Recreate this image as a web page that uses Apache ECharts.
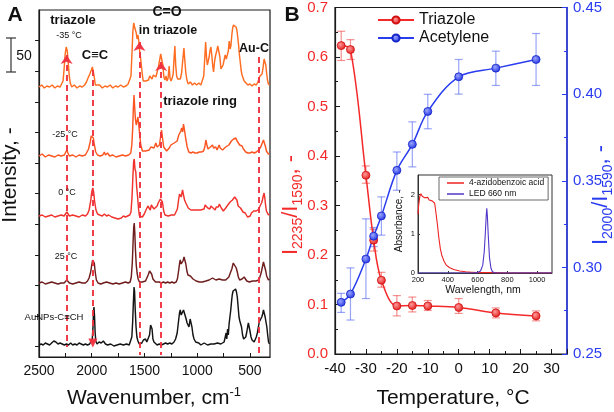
<!DOCTYPE html>
<html><head><meta charset="utf-8">
<script src="https://cdn.jsdelivr.net/npm/echarts@6/dist/echarts.min.js"></script>
<style>html,body{margin:0;padding:0;background:#fff}#c{width:614px;height:412px}</style>
</head><body><div id="c"></div>
<script>
// ---------- Panel A: Raman spectra (wavenumber, intensity offset-stacked) ----------
const wavenumberLabels = [500, 1000, 1500, 2000, 2500];
const wavenumberTicks = [500, 750, 1000, 1250, 1500, 1750, 2000, 2250, 2500];
const intensityTicks = [10.3, 40.9, 71.5, 102.1, 132.7, 163.3, 193.9, 224.5, 255.1, 285.7, 316.3];

const spectrumM35 = [[2500,270],[2475,272],[2450,269],[2425,271],[2400,270],[2375,272],[2350,269],[2325,271],[2300,270],[2285,272],[2272,276],[2262,288],[2252,303],[2242,310],[2232,306],[2224,296],[2214,282],[2204,274],[2190,270],[2165,272],[2140,269],[2115,271],[2090,270],[2068,272],[2050,275],[2035,279],[2018,283],[2004,287],[1994,290],[1985,288],[1976,280],[1966,272],[1950,270],[1925,272],[1900,269],[1875,271],[1850,270],[1825,272],[1800,269],[1775,271],[1750,270],[1725,272],[1700,270],[1675,271],[1655,273],[1640,274],[1628,281],[1618,305],[1610,326],[1602,334],[1594,330],[1586,332],[1578,324],[1570,318],[1562,322],[1554,316],[1546,306],[1538,300],[1530,292],[1522,284],[1512,276],[1500,274],[1488,276],[1476,274],[1462,277],[1450,281],[1440,283],[1428,278],[1416,282],[1404,283],[1392,280],[1380,285],[1368,290],[1356,297],[1346,303],[1336,302],[1326,292],[1316,280],[1306,277],[1296,281],[1286,276],[1276,279],[1266,291],[1258,279],[1248,276],[1238,279],[1228,283],[1220,298],[1212,311],[1204,292],[1195,281],[1185,278],[1172,280],[1160,278],[1148,284],[1136,298],[1126,309],[1118,297],[1108,284],[1098,277],[1085,273],[1065,275],[1045,272],[1025,274],[1005,272],[985,274],[965,272],[950,274],[938,281],[928,300],[920,315],[912,300],[904,292],[895,294],[887,300],[878,307],[870,310],[862,302],[852,290],[845,285],[835,296],[825,302],[815,306],[805,311],[795,309],[785,300],[775,288],[765,287],[755,292],[745,297],[735,302],[725,298],[715,296],[705,306],[697,316],[688,308],[680,312],[672,322],[664,329],[656,332],[648,331],[640,333],[632,330],[624,327],[616,320],[608,312],[600,302],[592,295],[584,287],[575,282],[565,279],[555,276],[540,274],[520,272],[500,273],[480,271],[460,273],[440,272],[425,275],[415,278],[405,281],[395,279],[385,283],[375,290],[366,298],[358,300],[350,292],[342,284],[334,277],[325,273],[315,272]];

const spectrumM25 = [[2500,201],[2470,203],[2440,200],[2410,202],[2380,201],[2350,200],[2320,202],[2290,201],[2260,202],[2248,204],[2236,207],[2226,204],[2212,201],[2180,202],[2150,200],[2120,202],[2090,201],[2060,202],[2045,204],[2030,208],[2015,215],[2005,221],[1995,223],[1985,219],[1975,212],[1962,205],[1945,202],[1920,201],[1895,202],[1880,205],[1870,202],[1850,204],[1830,201],[1800,202],[1770,200],[1740,201],[1710,202],[1680,201],[1650,202],[1630,204],[1620,212],[1612,228],[1605,250],[1599,262],[1593,250],[1586,238],[1578,232],[1570,236],[1562,240],[1555,233],[1545,222],[1535,212],[1520,206],[1505,205],[1490,206],[1472,205],[1455,207],[1440,210],[1425,212],[1410,209],[1392,214],[1380,210],[1370,208],[1358,212],[1345,222],[1338,227],[1330,220],[1318,210],[1305,208],[1290,206],[1280,207],[1265,209],[1250,212],[1235,210],[1218,214],[1205,212],[1190,216],[1175,222],[1165,224],[1155,226],[1148,229],[1138,225],[1130,233],[1122,228],[1110,219],[1095,210],[1080,205],[1060,204],[1040,205],[1020,204],[1000,204],[980,205],[960,205],[940,206],[928,210],[918,217],[908,212],[898,208],[887,209],[875,210],[865,208],[855,212],[845,209],[835,208],[824,210],[812,207],[800,209],[792,212],[782,209],[770,207],[760,207],[745,208],[730,210],[713,210],[700,212],[688,214],[676,216],[666,217],[655,218],[645,219],[634,219],[622,216],[610,214],[598,212],[587,214],[575,211],[562,208],[550,206],[540,205],[520,204],[500,204],[480,205],[460,204],[440,205],[428,205],[418,207],[408,209],[398,210],[390,209],[380,212],[372,217],[366,219],[360,216],[352,210],[344,206],[335,204],[325,203],[315,203]];

const spectrum0 = [[2500,141],[2470,142],[2440,140],[2410,141],[2380,142],[2350,140],[2320,141],[2290,142],[2262,141],[2248,143],[2236,145],[2226,143],[2212,141],[2180,142],[2150,141],[2120,140],[2090,142],[2060,141],[2040,143],[2025,147],[2010,156],[2000,165],[1990,169],[1982,165],[1972,155],[1960,147],[1945,143],[1925,142],[1900,141],[1880,143],[1860,141],[1840,142],[1810,140],[1780,139],[1750,138],[1720,139],[1700,141],[1680,140],[1660,141],[1640,142],[1628,145],[1618,160],[1610,180],[1603,195],[1597,198],[1590,188],[1582,185],[1574,170],[1565,160],[1556,148],[1548,141],[1536,139],[1520,140],[1502,143],[1490,146],[1478,148],[1468,151],[1455,150],[1445,147],[1435,152],[1423,151],[1410,148],[1400,147],[1392,149],[1380,151],[1370,154],[1360,156],[1350,158],[1340,159],[1330,155],[1318,146],[1305,142],[1290,141],[1275,141],[1260,140],[1245,142],[1230,141],[1215,142],[1200,143],[1188,148],[1178,156],[1168,163],[1161,165],[1152,160],[1145,164],[1139,167],[1130,162],[1120,157],[1108,154],[1095,153],[1085,149],[1075,148],[1060,147],[1045,149],[1030,147],[1015,148],[1000,147],[985,148],[968,147],[950,146],[935,148],[925,152],[918,154],[910,150],[900,149],[890,150],[880,148],[870,151],[860,153],[850,149],[840,148],[830,147],[820,150],[810,152],[800,150],[790,153],[782,154],[772,149],[762,147],[752,146],[742,148],[730,149],[718,150],[710,152],[700,154],[688,155],[676,156],[666,157],[656,158],[645,160],[634,160],[624,157],[612,151],[602,150],[590,149],[578,147],[566,145],[555,146],[545,144],[535,142],[523,140],[510,139],[498,141],[486,144],[476,145],[465,146],[450,144],[440,146],[428,146],[415,148],[405,151],[397,152],[390,154],[382,157],[374,161],[366,164],[360,160],[352,152],[344,146],[335,144],[325,142],[315,143]];

const spectrum25 = [[2500,74],[2470,75],[2440,73],[2410,74],[2380,75],[2350,74],[2320,73],[2290,74],[2262,74],[2248,76],[2236,77],[2226,75],[2212,74],[2180,73],[2150,74],[2120,75],[2090,74],[2060,74],[2040,76],[2025,79],[2010,85],[2000,92],[1992,97],[1984,99],[1976,94],[1966,84],[1956,77],[1940,74],[1915,73],[1890,74],[1860,75],[1830,74],[1800,73],[1770,74],[1740,73],[1710,74],[1680,75],[1655,74],[1636,75],[1625,80],[1615,95],[1608,115],[1602,130],[1597,134],[1592,125],[1586,108],[1578,92],[1570,84],[1560,78],[1548,75],[1535,74],[1520,75],[1505,77],[1490,76],[1478,78],[1465,82],[1452,86],[1440,87],[1432,83],[1420,78],[1408,76],[1395,75],[1380,74],[1360,75],[1340,74],[1320,75],[1300,74],[1280,75],[1260,74],[1240,75],[1220,74],[1200,75],[1188,78],[1178,85],[1168,93],[1161,97],[1152,93],[1145,92],[1135,96],[1125,100],[1117,100],[1108,93],[1098,86],[1088,82],[1078,80],[1065,81],[1050,79],[1040,78],[1025,77],[1010,76],[997,76],[980,75],[966,74],[950,75],[934,75],[918,76],[902,77],[887,77],[871,78],[855,79],[840,78],[823,77],[808,76],[792,78],[776,79],[760,77],[745,76],[730,77],[713,77],[700,80],[690,83],[681,84],[672,88],[665,91],[658,94],[650,93],[640,92],[630,89],[620,85],[610,80],[598,77],[587,77],[575,78],[565,78],[555,80],[545,79],[530,76],[518,76],[505,75],[492,75],[476,76],[460,77],[445,76],[429,76],[415,77],[405,79],[397,83],[390,86],[380,91],[372,95],[365,97],[358,93],[350,86],[342,81],[334,79],[325,77],[315,78]];

const spectrumAuNPs = [[2500,12],[2480,13],[2460,12],[2440,14],[2420,13],[2400,12],[2380,14],[2360,16],[2340,15],[2320,13],[2300,14],[2280,13],[2260,12],[2240,13],[2220,12],[2200,14],[2180,12],[2160,13],[2140,12],[2120,14],[2100,13],[2080,12],[2060,13],[2040,12],[2020,13],[2005,15],[1995,18],[1988,30],[1983,46],[1979,50],[1974,42],[1968,25],[1962,16],[1950,13],[1930,15],[1910,14],[1890,16],[1870,13],[1850,12],[1820,13],[1790,11],[1760,12],[1730,13],[1700,12],[1670,13],[1645,12],[1630,14],[1620,20],[1612,35],[1605,55],[1599,70],[1594,66],[1588,48],[1580,30],[1572,20],[1562,16],[1550,13],[1540,12],[1525,14],[1510,17],[1500,16],[1490,18],[1478,15],[1465,16],[1452,22],[1442,32],[1436,34],[1428,28],[1420,18],[1410,15],[1395,13],[1380,12],[1360,13],[1340,12],[1320,13],[1300,14],[1280,13],[1260,14],[1240,13],[1220,15],[1205,18],[1190,24],[1178,35],[1168,44],[1161,47],[1152,42],[1145,40],[1139,44],[1130,47],[1122,49],[1115,45],[1105,38],[1096,34],[1088,32],[1078,30],[1067,38],[1060,36],[1050,30],[1040,22],[1030,18],[1015,15],[1000,13],[985,14],[966,12],[950,13],[934,14],[918,13],[902,12],[887,14],[871,13],[855,14],[840,13],[823,15],[808,14],[792,13],[776,13],[760,14],[745,15],[733,16],[726,24],[720,18],[712,28],[705,22],[698,33],[690,40],[682,47],[675,55],[668,62],[660,66],[652,68],[644,67],[636,68],[628,65],[620,60],[612,50],[604,40],[596,36],[588,38],[580,30],[570,22],[560,18],[550,17],[540,20],[530,25],[522,30],[515,34],[508,32],[500,26],[490,20],[480,17],[470,16],[460,15],[450,17],[440,20],[430,24],[420,30],[412,35],[404,33],[396,36],[388,40],[380,43],[372,47],[364,46],[356,40],[348,35],[340,30],[332,22],[324,15],[315,13]];

// band marker lines: [wavenumber, top, bottom]
const bandLines = [[2238, 302, 10], [1990, 287, 14], [1548, 315, 2], [1342, 295, 2], [416, 300, 2]];

// ---------- Panel B: ratios vs temperature ----------
const temperatures = [-38, -35, -30, -27.5, -25, -20, -15, -10, 0, 12, 25];
const triazole = [0.623, 0.615, 0.361, 0.23, 0.149, 0.097, 0.098, 0.097, 0.094, 0.083, 0.077];
const triazoleLow = [0.593, 0.595, 0.345, 0.208, 0.135, 0.077, 0.085, 0.088, 0.082, 0.073, 0.067];
const triazoleHigh = [0.652, 0.635, 0.38, 0.252, 0.165, 0.118, 0.115, 0.108, 0.112, 0.093, 0.087];
const acetylene = [0.2798, 0.2846, 0.3048, 0.318, 0.3297, 0.356, 0.371, 0.390, 0.410, 0.415, 0.420];
const acetyleneLow = [0.274, 0.2696, 0.282, 0.312, 0.3186, 0.3445, 0.358, 0.380, 0.400, 0.405, 0.405];
const acetyleneHigh = [0.285, 0.2997, 0.328, 0.323, 0.3407, 0.3666, 0.384, 0.3999, 0.420, 0.4248, 0.435];

// ---------- Inset: absorbance spectra ----------
const azideWavelength = [200, 205, 212, 220, 228, 236, 245, 255, 265, 275, 285, 295, 305, 312, 320, 330, 340, 350, 360, 375, 390, 410, 440, 480, 520, 560, 600, 700, 800, 900, 1000, 1100];
const azideAbsorbance = [1.5, 1.75, 1.95, 2.02, 1.96, 1.98, 1.92, 1.9, 1.93, 1.86, 1.83, 1.84, 1.83, 1.78, 1.55, 1.25, 0.9, 0.62, 0.45, 0.3, 0.2, 0.14, 0.09, 0.05, 0.03, 0.02, 0.01, 0.01, 0.0, 0.0, 0.0, 0.0];
const ledWavelength = [200, 400, 560, 600, 620, 635, 645, 652, 658, 662, 666, 672, 680, 690, 700, 720, 900, 1100];
const ledIntensity = [0, 0, 0, 0.01, 0.05, 0.2, 0.55, 1.0, 1.45, 1.65, 1.45, 0.95, 0.4, 0.12, 0.03, 0, 0, 0];

const FONT = '"Liberation Sans", Arial, Helvetica, sans-serif';
const RED = '#f42a2a', BLUE = '#2a3cf0', DASH = '#f03240';

function zip(a, b) { return a.map((v, i) => [v, b[i]]); }
function errRender(color) {
  return function (params, api) {
    const x = api.value(0), lo = api.value(1), hi = api.value(2);
    const p1 = api.coord([x, lo]), p2 = api.coord([x, hi]);
    const w = 4, st = { stroke: color, lineWidth: 1.2 };
    return { type: 'group', children: [
      { type: 'line', shape: { x1: p1[0], y1: p1[1], x2: p2[0], y2: p2[1] }, style: st },
      { type: 'line', shape: { x1: p1[0] - w, y1: p1[1], x2: p1[0] + w, y2: p1[1] }, style: st },
      { type: 'line', shape: { x1: p2[0] - w, y1: p2[1], x2: p2[0] + w, y2: p2[1] }, style: st }
    ] };
  };
}
function ball(c0, c1) {
  return { type: 'radial', x: 0.4, y: 0.38, r: 0.65, colorStops: [{ offset: 0, color: c0 }, { offset: 1, color: c1 }] };
}
function specSeries(name, data, color) {
  return { name, type: 'line', xAxisIndex: 0, yAxisIndex: 0, data, symbol: 'none', lineStyle: { color, width: 1.45 }, itemStyle: { color }, silent: true };
}
function txt(x, y, text, size, weight, extra) {
  return Object.assign({ type: 'text', x, y, z: 100, silent: true,
    style: { text, fontSize: size, fontWeight: weight || 'normal', fontFamily: FONT, fill: '#111', align: 'center', verticalAlign: 'middle' } }, extra || {});
}
function rot(x, y, style) {
  return { type: 'text', x, y, rotation: Math.PI / 2, z: 100, silent: true,
    style: Object.assign({ fontFamily: FONT, align: 'center', verticalAlign: 'middle' }, style) };
}
const plain = v => String(v);

const markData = bandLines.map((b, i) => [
  { coord: [b[0], b[1]], symbol: (i === 1 || i === 4) ? 'none' : 'arrow', symbolSize: 9 },
  { coord: [b[0], b[2]], symbol: i === 1 ? 'triangle' : 'none', symbolSize: 9 }
]);

const chart = echarts.init(document.getElementById('c'));
const axisLineBlack = { show: true, onZero: false, lineStyle: { color: '#1a1a1a', width: 1.2 } };

chart.setOption({
  animation: false,
  textStyle: { fontFamily: FONT },
  grid: [
    { left: 39, top: 10, width: 231, height: 347, show: true, borderColor: '#1a1a1a', borderWidth: 1.2 },
    { left: 335, top: 7, width: 232, height: 347, show: true, borderColor: '#1a1a1a', borderWidth: 1.2 },
    { left: 418, top: 175, width: 134, height: 98, show: true, borderColor: '#333', borderWidth: 1, backgroundColor: '#fff' }
  ],
  xAxis: [
    { gridIndex: 0, type: 'value', inverse: true, min: 310, max: 2500, axisLine: axisLineBlack,
      axisTick: { show: true, inside: true, length: 4, customValues: wavenumberTicks, lineStyle: { color: '#1a1a1a' } },
      axisLabel: { customValues: wavenumberLabels, fontSize: 14, color: '#111', margin: 7, fontFamily: FONT, formatter: plain },
      splitLine: { show: false } },
    { gridIndex: 1, type: 'value', min: -40, max: 35, interval: 10, axisLine: axisLineBlack,
      axisTick: { show: true, inside: true, length: 5, lineStyle: { color: '#1a1a1a' } },
      minorTick: { show: true, splitNumber: 2, length: 3, lineStyle: { color: '#1a1a1a' } },
      axisLabel: { fontSize: 15, color: '#111', margin: 7, showMaxLabel: false, fontFamily: FONT, formatter: plain },
      splitLine: { show: false } },
    { gridIndex: 2, type: 'value', min: 200, max: 1100, interval: 200, axisLine: { show: true, onZero: false, lineStyle: { color: '#333', width: 1 } },
      axisTick: { show: true, inside: true, length: 2, lineStyle: { color: '#333' } },
      axisLabel: { fontSize: 7.5, color: '#111', margin: 3, showMaxLabel: false, fontFamily: FONT, formatter: plain },
      splitLine: { show: false } }
  ],
  yAxis: [
    { gridIndex: 0, type: 'value', min: 0, max: 347, axisLine: axisLineBlack,
      axisTick: { show: true, inside: false, length: 4, customValues: intensityTicks, lineStyle: { color: '#1a1a1a' } },
      axisLabel: { show: false }, splitLine: { show: false } },
    { gridIndex: 1, type: 'value', min: 0, max: 0.7, interval: 0.1, axisLine: axisLineBlack,
      axisTick: { show: true, inside: true, length: 5, lineStyle: { color: '#1a1a1a' } },
      minorTick: { show: true, splitNumber: 2, length: 3, lineStyle: { color: '#1a1a1a' } },
      axisLabel: { fontSize: 15, color: RED, margin: 7, formatter: v => v.toFixed(1), fontFamily: FONT },
      splitLine: { show: false } },
    { gridIndex: 1, type: 'value', position: 'right', min: 0.25, max: 0.45, interval: 0.05,
      axisLine: { show: true, onZero: false, lineStyle: { color: BLUE, width: 1.5 } },
      axisTick: { show: true, inside: true, length: 5, lineStyle: { color: BLUE } },
      minorTick: { show: true, splitNumber: 2, length: 3, lineStyle: { color: BLUE } },
      axisLabel: { fontSize: 15, color: BLUE, margin: 6, formatter: v => v.toFixed(2), fontFamily: FONT },
      splitLine: { show: false } },
    { gridIndex: 2, type: 'value', min: 0, max: 2.5, interval: 1, axisLine: { show: true, onZero: false, lineStyle: { color: '#333', width: 1 } },
      axisTick: { show: true, inside: true, length: 2, lineStyle: { color: '#333' } },
      axisLabel: { fontSize: 7.5, color: '#111', margin: 3, showMaxLabel: false, fontFamily: FONT },
      splitLine: { show: false } }
  ],
  legend: [
    { data: ['Triazole', 'Acetylene'], orient: 'vertical', left: 377, top: 12, padding: 0, itemGap: 2,
      itemWidth: 36, itemHeight: 9, textStyle: { fontSize: 16, color: '#111', lineHeight: 14, fontFamily: FONT } },
    { data: [{ name: '4-azidobenzoic acid', icon: 'rect' }, { name: 'LED 660 nm', icon: 'rect' }], orient: 'vertical', left: 439, top: 177, padding: [1, 4, 1, 8], itemGap: 1,
      itemWidth: 17, itemHeight: 1.5, borderColor: '#444', borderWidth: 0.8, backgroundColor: '#fff',
      textStyle: { fontSize: 8.5, color: '#111', lineHeight: 10, fontFamily: FONT } }
  ],
  series: [
    specSeries('-35 °C', spectrumM35, '#ff6d22'),
    specSeries('-25 °C', spectrumM25, '#fb5622'),
    specSeries('0 °C', spectrum0, '#f0322c'),
    specSeries('25 °C', spectrum25, '#6e1c1c'),
    Object.assign(specSeries('AuNPs-C≡CH', spectrumAuNPs, '#141414'), {
      markLine: { silent: true, animation: false, symbol: ['none', 'none'], label: { show: false },
        lineStyle: { type: [6, 4], color: DASH, width: 2, opacity: 0.95 }, emphasis: { disabled: true },
        data: markData }
    }),
    { type: 'custom', name: 'triazoleErr', xAxisIndex: 1, yAxisIndex: 1, z: 1, silent: true,
      renderItem: errRender('rgba(240,70,70,0.6)'), encode: { x: 0, y: [1, 2] },
      data: temperatures.map((t, i) => [t, triazoleLow[i], triazoleHigh[i]]) },
    { type: 'custom', name: 'acetyleneErr', xAxisIndex: 1, yAxisIndex: 2, z: 1, silent: true,
      renderItem: errRender('rgba(70,90,240,0.55)'), encode: { x: 0, y: [1, 2] },
      data: temperatures.map((t, i) => [t, acetyleneLow[i], acetyleneHigh[i]]) },
    { name: 'Triazole', type: 'line', xAxisIndex: 1, yAxisIndex: 1, data: zip(temperatures, triazole), smooth: 0.35,
      symbol: 'circle', symbolSize: 8, lineStyle: { color: RED, width: 1.5 },
      itemStyle: { color: ball('#ff9a9a', '#e21818'), borderColor: '#d01010', borderWidth: 0.8 } },
    { name: 'Acetylene', type: 'line', xAxisIndex: 1, yAxisIndex: 2, data: zip(temperatures, acetylene), smooth: 0.35,
      symbol: 'circle', symbolSize: 8, lineStyle: { color: BLUE, width: 1.5 },
      itemStyle: { color: ball('#9aa6ff', '#1f30e0'), borderColor: '#1525c8', borderWidth: 0.8 } },
    { name: '4-azidobenzoic acid', type: 'line', xAxisIndex: 2, yAxisIndex: 3, data: zip(azideWavelength, azideAbsorbance),
      symbol: 'none', lineStyle: { color: '#ee2222', width: 1.1 }, itemStyle: { color: '#ee2222' }, z: 5 },
    { name: 'LED 660 nm', type: 'line', xAxisIndex: 2, yAxisIndex: 3, data: zip(ledWavelength, ledIntensity),
      symbol: 'none', lineStyle: { color: '#5236c8', width: 1.1 }, itemStyle: { color: '#5236c8' }, z: 5 }
  ],
  graphic: [
    txt(15, 15, 'A', 21, 'bold'),
    txt(292, 15, 'B', 21, 'bold'),
    txt(73, 20, 'triazole', 13, 'bold'),
    txt(167, 12, 'C=O', 14, 'bold'),
    txt(168, 31, 'in triazole', 12.5, 'bold'),
    txt(95, 55, 'C≡C', 13, 'bold'),
    txt(200, 101, 'triazole ring', 13, 'bold'),
    txt(254, 49, 'Au-C', 12.5, 'bold'),
    txt(69, 36, '-35 °C', 9),
    txt(65, 135, '-25 °C', 9),
    txt(67, 193, '0 °C', 9),
    txt(66, 257, '25 °C', 9),
    txt(54, 317, 'AuNPs-C≡CH', 9.5),
    { type: 'group', z: 100, silent: true, children: [
      { type: 'line', shape: { x1: 11, y1: 38, x2: 11, y2: 72 }, style: { stroke: '#333', lineWidth: 1.2 } },
      { type: 'line', shape: { x1: 6, y1: 38, x2: 16, y2: 38 }, style: { stroke: '#333', lineWidth: 1.2 } },
      { type: 'line', shape: { x1: 6, y1: 72, x2: 16, y2: 72 }, style: { stroke: '#333', lineWidth: 1.2 } }
    ] },
    txt(24, 56, '50', 14),
    rot(10, 175, { text: 'Intensity, -', fontSize: 21, fill: '#111' }),
    txt(154, 398, '', 21, 'normal', { style: { text: '{m|Wavenumber, cm}{s|-1}', align: 'center', verticalAlign: 'middle', fontFamily: FONT,
      rich: { m: { fontSize: 21, lineHeight: 24, fill: '#111', fontFamily: FONT }, s: { fontSize: 13, verticalAlign: 'top', lineHeight: 13, fill: '#111', fontFamily: FONT } } } }),
    txt(453, 398, 'Temperature, °C', 21),
    rot(291, 205, { text: '{m|I}{s|2235}{m|/I}{s|1590}{m|, -}', fill: RED,
      rich: { m: { fontSize: 22, lineHeight: 28, fill: RED, fontFamily: FONT }, s: { fontSize: 14, lineHeight: 14, verticalAlign: 'bottom', fill: RED, fontFamily: FONT } } }),
    rot(601, 195, { text: '{m|I}{s|2000}{m|/I}{s|1590}{m|, -}', fill: BLUE,
      rich: { m: { fontSize: 22, lineHeight: 28, fill: BLUE, fontFamily: FONT }, s: { fontSize: 14, lineHeight: 14, verticalAlign: 'bottom', fill: BLUE, fontFamily: FONT } } }),
    rot(399, 221, { text: 'Absorbance, -', fontSize: 10, fill: '#111' }),
    txt(483, 290, 'Wavelength, nm', 10.5)
  ]
});
</script></body></html>
